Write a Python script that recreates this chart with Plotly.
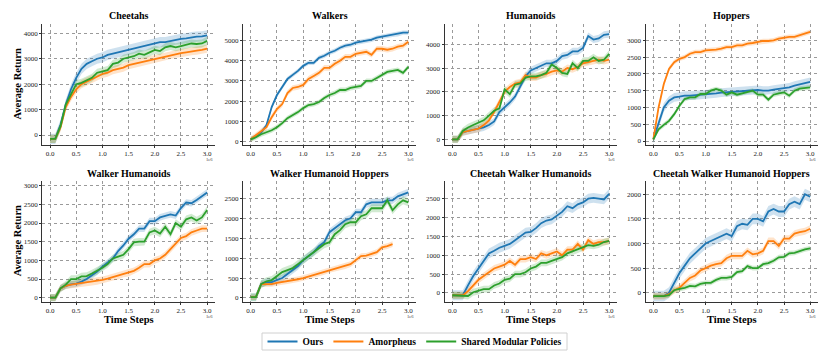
import plotly.graph_objects as go
from plotly.subplots import make_subplots

# time steps (x1e6)
steps = [0.0, 0.1, 0.2, 0.3, 0.4, 0.5, 0.6, 0.7, 0.8, 0.9, 1.0, 1.1, 1.2, 1.3, 1.4, 1.5,
         1.6, 1.7, 1.8, 1.9, 2.0, 2.1, 2.2, 2.3, 2.4, 2.5, 2.6, 2.7, 2.8, 2.9, 3.0]

methods = ["Ours", "Amorpheus", "Shared Modular Policies"]
colors = ["#1f77b4", "#ff7f0e", "#2ca02c"]
band_colors = ["rgba(31,119,180,0.22)", "rgba(255,127,14,0.22)", "rgba(44,160,44,0.22)"]

titles = ["Cheetahs", "Walkers", "Humanoids", "Hoppers",
          "Walker Humanoids", "Walker Humanoid Hoppers",
          "Cheetah Walker Humanoids", "Cheetah Walker Humanoid Hoppers"]

# --- Cheetahs
cheetahs_ours = [-150, -150, 400, 1200, 1800, 2250, 2600, 2800, 2900, 3000, 3050, 3150, 3200, 3250, 3300, 3350,
                 3400, 3450, 3500, 3550, 3600, 3650, 3650, 3700, 3750, 3780, 3800, 3850, 3870, 3880, 3920]
cheetahs_amorpheus = [-150, -150, 300, 1100, 1500, 1800, 2000, 2100, 2200, 2300, 2400, 2450, 2550, 2600, 2650, 2750,
                      2800, 2850, 2900, 2950, 3000, 3050, 3100, 3150, 3200, 3220, 3250, 3300, 3320, 3350, 3400]
cheetahs_smp = [-150, -150, 350, 1200, 1600, 2000, 2050, 2150, 2250, 2450, 2500, 2550, 2800, 2850, 3000, 3050,
                3100, 3200, 3150, 3250, 3350, 3300, 3450, 3500, 3450, 3500, 3550, 3600, 3580, 3600, 3700]
cheetahs_band = [200, 160, 160]

# --- Walkers
walkers_ours = [100, 250, 450, 800, 1700, 2300, 2700, 3100, 3300, 3500, 3750, 3900, 3900, 4150, 4250, 4400,
                4500, 4650, 4750, 4800, 4900, 4950, 5000, 5050, 5150, 5200, 5250, 5300, 5320, 5400, 5400]
walkers_amorpheus = [100, 300, 500, 700, 1200, 1600, 1850, 2400, 2650, 2700, 2800, 3100, 3250, 3400, 3650, 3650,
                     3850, 4000, 4200, 4200, 4350, 4400, 4450, 4300, 4600, 4600, 4550, 4600, 4700, 4750, 4950]
walkers_smp = [100, 200, 350, 450, 550, 700, 900, 1150, 1300, 1450, 1650, 1800, 1850, 1950, 2150, 2300,
               2400, 2550, 2550, 2650, 2700, 2750, 3000, 3000, 3150, 3300, 3450, 3500, 3550, 3400, 3700]
walkers_band = [110, 140, 120]

# --- Humanoids
humanoids_ours = [0, 0, 300, 350, 400, 450, 500, 600, 750, 1150, 1350, 1550, 1800, 2200, 2650, 2900,
                  3000, 3100, 3200, 3200, 3300, 3500, 3550, 3700, 3700, 3850, 4350, 4200, 4250, 4400, 4430]
humanoids_amorpheus = [0, 0, 300, 350, 400, 450, 600, 800, 1150, 1600, 2000, 2200, 2350, 2400, 2700, 2600,
                       2600, 2700, 2750, 2850, 2900, 2850, 3000, 2950, 3050, 3200, 3250, 3300, 3350, 3300, 3350]
humanoids_smp = [0, 0, 350, 500, 600, 700, 800, 1000, 1200, 1300, 2100, 1900, 2300, 2350, 2600, 2650,
                 2650, 2700, 2800, 3150, 3000, 2800, 2750, 3200, 3000, 3300, 3300, 3450, 3300, 3350, 3600]
humanoids_band = [150, 150, 150]

# --- Hoppers
hoppers_ours = [50, 500, 1000, 1200, 1300, 1320, 1350, 1350, 1360, 1380, 1400, 1400, 1420, 1440, 1450, 1460,
                1480, 1500, 1500, 1510, 1520, 1500, 1500, 1530, 1550, 1570, 1600, 1650, 1690, 1720, 1760]
hoppers_amorpheus = [50, 1000, 1700, 2150, 2350, 2450, 2500, 2600, 2650, 2650, 2700, 2700, 2720, 2750, 2800, 2800,
                     2850, 2850, 2900, 2920, 2950, 2980, 2980, 3000, 3050, 3080, 3100, 3100, 3150, 3200, 3250]
hoppers_smp = [50, 350, 480, 600, 800, 1050, 1250, 1300, 1300, 1400, 1400, 1500, 1550, 1500, 1380, 1450,
               1380, 1420, 1480, 1500, 1380, 1380, 1230, 1380, 1420, 1450, 1350, 1500, 1560, 1580, 1600]
hoppers_band = [130, 70, 70]

# --- Walker Humanoids
wh_ours = [0, 0, 250, 320, 360, 380, 430, 500, 600, 700, 830, 950, 1050, 1250, 1400, 1580,
           1700, 1850, 1850, 2050, 2050, 2150, 2200, 2230, 2200, 2400, 2550, 2530, 2620, 2730, 2820]
wh_amorpheus = [0, 0, 250, 320, 350, 370, 380, 400, 420, 440, 480, 510, 550, 580, 640, 660,
                720, 800, 900, 900, 1000, 1050, 1150, 1300, 1450, 1600, 1650, 1750, 1800, 1850, 1850]
wh_smp = [0, 0, 250, 350, 500, 500, 570, 580, 650, 720, 800, 900, 1050, 1100, 1150, 1300,
          1480, 1500, 1500, 1750, 1800, 1720, 1900, 1700, 2000, 1900, 2100, 2150, 2070, 2150, 2350]
wh_band = [90, 90, 100]

# --- Walker Humanoid Hoppers
whh_ours = [20, 20, 350, 400, 400, 450, 500, 600, 700, 800, 950, 1050, 1150, 1300, 1400, 1650,
            1750, 1850, 1950, 2000, 2150, 2150, 2350, 2400, 2400, 2400, 2450, 2450, 2550, 2600, 2650]
whh_amorpheus = [20, 20, 350, 350, 350, 380, 400, 420, 440, 470, 500, 540, 570, 610, 650, 700,
                 730, 770, 800, 850, 950, 1050, 1060, 1100, 1150, 1270, 1300, 1350]
whh_smp = [20, 20, 350, 420, 450, 550, 650, 700, 750, 850, 950, 1050, 1150, 1250, 1350, 1400,
           1600, 1700, 1850, 1900, 1900, 2050, 2100, 2250, 2250, 2250, 2450, 2200, 2350, 2450, 2400]
whh_band = [90, 70, 100]

# --- Cheetah Walker Humanoids
cwh_ours = [-60, -60, -60, 200, 450, 650, 850, 1050, 1120, 1200, 1250, 1300, 1400, 1500, 1600, 1620,
            1720, 1850, 1920, 1950, 2050, 2150, 2300, 2250, 2350, 2400, 2500, 2520, 2500, 2480, 2630]
cwh_amorpheus = [-60, -60, -60, 50, 200, 350, 450, 550, 650, 700, 750, 850, 750, 900, 900, 950,
                 900, 1050, 1000, 1050, 1100, 1000, 1150, 1150, 1300, 1150, 1400, 1300, 1350, 1350, 1380]
cwh_smp = [-60, -60, -60, -80, 20, 50, 100, 100, 200, 250, 350, 380, 500, 500, 550, 650,
           700, 800, 800, 850, 900, 950, 1050, 1100, 1150, 1200, 1270, 1250, 1280, 1350, 1380]
cwh_band = [130, 90, 90]

# --- Cheetah Walker Humanoid Hoppers
cwhh_ours = [-70, -70, -70, 0, 200, 400, 550, 700, 800, 900, 1000, 1050, 1100, 1150, 1200, 1150,
             1350, 1400, 1380, 1500, 1500, 1450, 1650, 1700, 1650, 1650, 1800, 1850, 1800, 2000, 1950]
cwhh_amorpheus = [-70, -70, -70, -30, 50, 100, 200, 300, 350, 450, 500, 550, 580, 600, 700, 750,
                  750, 750, 850, 780, 800, 850, 1050, 1050, 950, 1100, 1100, 1200, 1230, 1250, 1300]
cwhh_smp = [-70, -70, -70, -50, 50, 80, 100, 140, 130, 180, 200, 200, 260, 300, 300, 320,
            420, 440, 540, 500, 500, 580, 600, 650, 720, 730, 800, 810, 850, 880, 900]
cwhh_band = [110, 70, 50]

panels = [
    ([cheetahs_ours, cheetahs_amorpheus, cheetahs_smp], cheetahs_band),
    ([walkers_ours, walkers_amorpheus, walkers_smp], walkers_band),
    ([humanoids_ours, humanoids_amorpheus, humanoids_smp], humanoids_band),
    ([hoppers_ours, hoppers_amorpheus, hoppers_smp], hoppers_band),
    ([wh_ours, wh_amorpheus, wh_smp], wh_band),
    ([whh_ours, whh_amorpheus, whh_smp], whh_band),
    ([cwh_ours, cwh_amorpheus, cwh_smp], cwh_band),
    ([cwhh_ours, cwhh_amorpheus, cwhh_smp], cwhh_band),
]

y_ranges = [[-393, 4366], [-184, 5830], [-240, 4855], [-119, 3486],
            [-107, 3126], [-93, 2934], [-231, 2969], [-183, 2270]]
y_dticks = [1000, 1000, 1000, 500, 500, 500, 500, 500]

# the page puts the figure 8px in from the top-left corner, so work in window pixels and shift
OFF = 8
W, H = 830 - OFF, 356 - OFF
col_px = [(42.2, 215.0), (242.8, 416.2), (444.5, 617.0), (645.5, 818.0)]
row_px = [(24, 145), (181, 301.7)]
serif = "Times New Roman, Liberation Serif, serif"


def px(x):
    return (x - OFF) / W


def py(y):
    return 1 - (y - OFF) / H


fig = make_subplots(rows=2, cols=4)

for p, (series, band) in enumerate(panels):
    r, c = p // 4 + 1, p % 4 + 1
    # bands first, then lines on top
    for k, ys in enumerate(series):
        xs = steps[:len(ys)]
        up = [v + band[k] for v in ys]
        lo = [v - band[k] for v in ys]
        fig.add_trace(go.Scatter(x=xs + xs[::-1], y=up + lo[::-1], fill="toself",
                                 fillcolor=band_colors[k], line=dict(width=0),
                                 hoverinfo="skip", showlegend=False), row=r, col=c)
    for k, ys in enumerate(series):
        fig.add_trace(go.Scatter(x=steps[:len(ys)], y=ys, mode="lines", name=methods[k],
                                 line=dict(color=colors[k], width=1.8),
                                 showlegend=(p == 0), legendgroup=methods[k]), row=r, col=c)

    x0, x1 = col_px[c - 1]
    y0, y1 = row_px[r - 1]
    xa = "xaxis" if p == 0 else f"xaxis{p + 1}"
    ya = "yaxis" if p == 0 else f"yaxis{p + 1}"
    fig.layout[xa].update(domain=[px(x0), px(x1)], range=[-0.15, 3.15], tickvals=[0, 0.5, 1, 1.5, 2, 2.5, 3],
                          ticktext=["0.0", "0.5", "1.0", "1.5", "2.0", "2.5", "3.0"])
    fig.layout[ya].update(domain=[py(y1), py(y0)], range=y_ranges[p], dtick=y_dticks[p], tick0=0)

    xmid = px((x0 + x1) / 2)
    fig.add_annotation(x=xmid, y=py(y0 - 8), xref="paper", yref="paper", text=titles[p],
                       showarrow=False, xanchor="center", yanchor="middle",
                       font=dict(family=serif, size=10, color="black", weight="bold"))
    fig.add_annotation(x=px(x1), y=py(y1 + 14.5), xref="paper", yref="paper", text="1e6",
                       showarrow=False, xanchor="right", yanchor="middle",
                       font=dict(family=serif, size=4.5, color="#333"))
    if r == 2:
        fig.add_annotation(x=xmid, y=py(319.5), xref="paper", yref="paper", text="Time Steps",
                           showarrow=False, xanchor="center", yanchor="middle",
                           font=dict(family=serif, size=10.5, color="black", weight="bold"))
    if c == 1:
        fig.add_annotation(x=px(17), y=py((y0 + y1) / 2), xref="paper", yref="paper",
                           text="Average Return", textangle=-90, showarrow=False,
                           xanchor="center", yanchor="middle",
                           font=dict(family=serif, size=10.5, color="black", weight="bold"))

axis_style = dict(showline=True, linecolor="#333", linewidth=1, mirror=False, ticks="outside", ticklen=2,
                  tickcolor="#333", tickfont=dict(family=serif, size=7, color="#222"),
                  showgrid=True, gridcolor="#9a9a9a", griddash="dot", gridwidth=0.8, zeroline=False)
fig.update_xaxes(**axis_style)
fig.update_yaxes(**axis_style)

# thin frame round the legend (plotly's own legend box is taller than the reference's)
fig.add_shape(type="rect", xref="paper", yref="paper", x0=px(262), x1=px(567), y0=py(350), y1=py(333),
              line=dict(color="#d0d0d0", width=1), fillcolor="rgba(0,0,0,0)", layer="below")

fig.update_layout(
    width=W, height=H,
    margin=dict(l=0, r=0, t=0, b=0),
    paper_bgcolor="white", plot_bgcolor="white",
    font=dict(family=serif),
    showlegend=True,
    legend=dict(orientation="h", x=px(414.5), y=py(341.5), xanchor="center", yanchor="middle",
                borderwidth=0, bgcolor="rgba(0,0,0,0)",
                font=dict(family=serif, size=9.5, color="black", weight="bold"),
                itemwidth=30, tracegroupgap=0),
)

fig.write_html("out.html")
